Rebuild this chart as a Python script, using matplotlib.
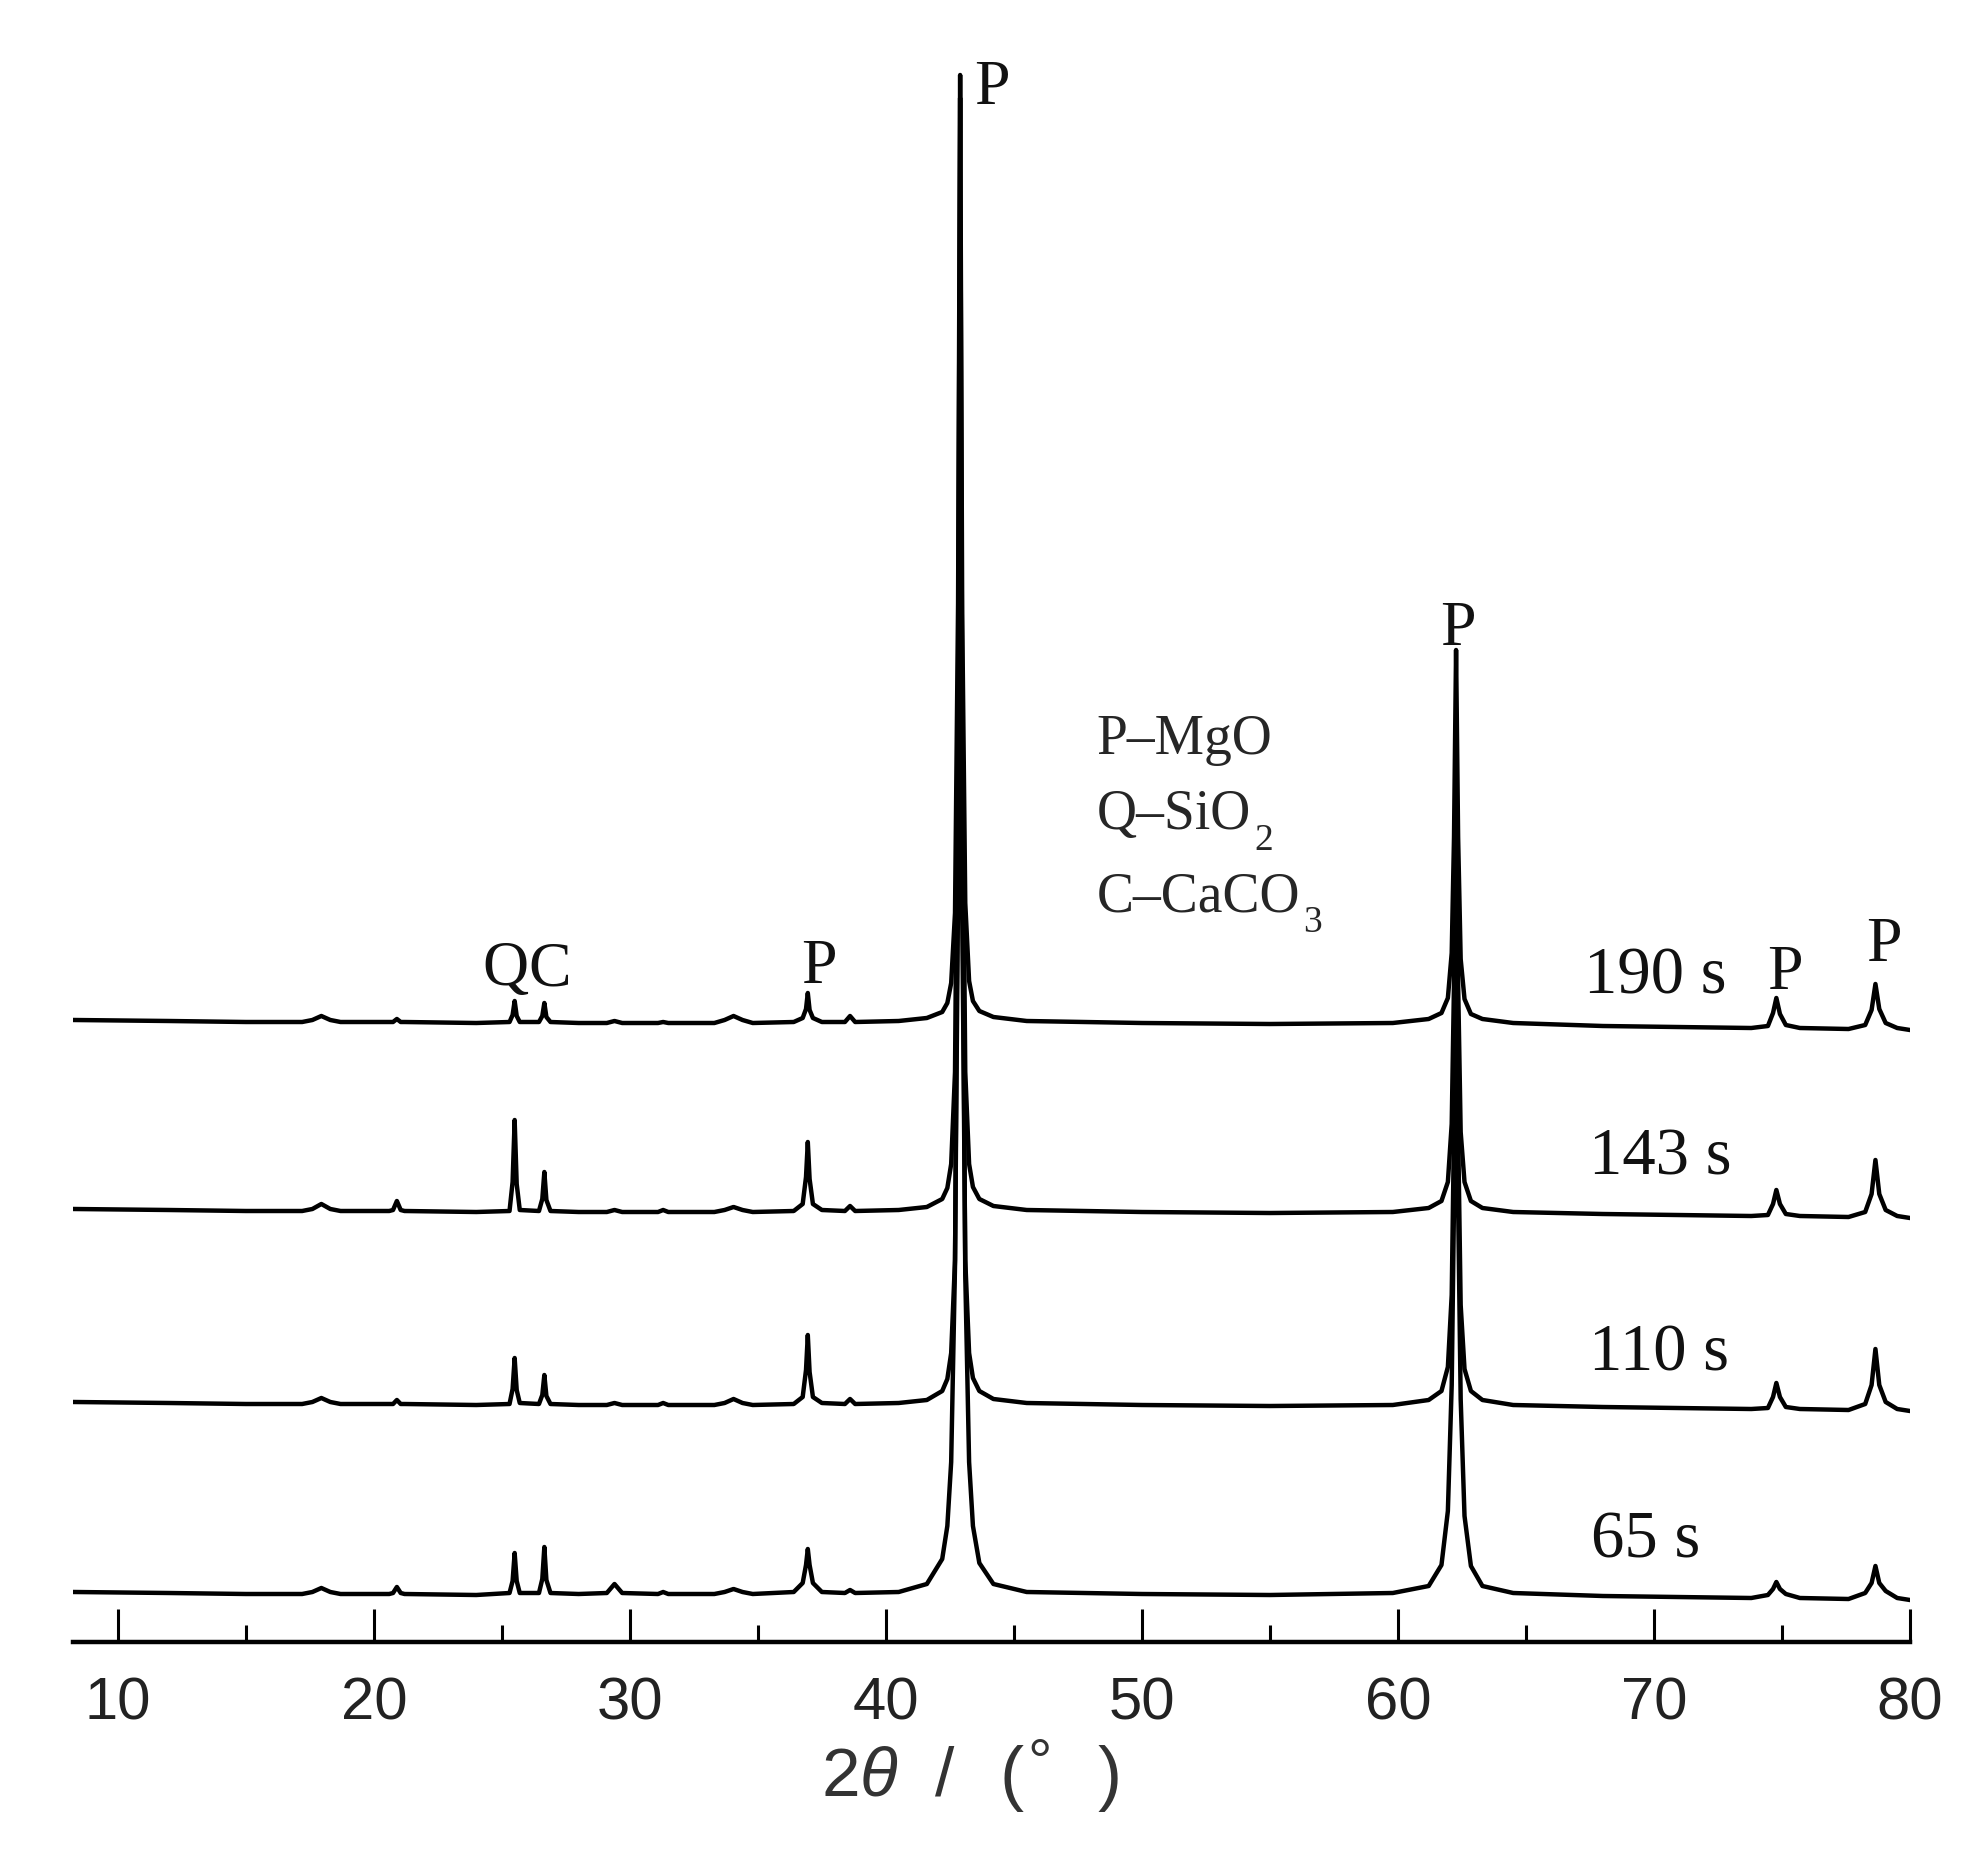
import matplotlib
matplotlib.use('Agg')
import matplotlib.pyplot as plt
from matplotlib.ticker import MultipleLocator

plt.rcParams['font.family'] = ['Liberation Sans Narrow', 'Liberation Sans', 'DejaVu Sans']
plt.rcParams['mathtext.fontset'] = 'custom'
plt.rcParams['mathtext.rm'] = 'Liberation Sans'
plt.rcParams['mathtext.it'] = 'Liberation Sans:italic'
SERIF = ['Liberation Serif', 'DejaVu Serif']

# 2theta positions of the trace vertices (shared by all four patterns)
two_theta = [8.3, 12.0, 15.0, 17.2, 17.6, 17.95, 18.3, 18.7, 20.6, 20.75, 20.9, 21.05, 21.2,
             24.0, 25.3, 25.42, 25.5, 25.58, 25.7, 26.45, 26.58, 26.66, 26.74, 26.9,
             28.0, 29.1, 29.4, 29.7, 31.1, 31.3, 31.5, 33.3, 33.7, 34.05, 34.4, 34.8,
             36.4, 36.75, 36.88, 36.95, 37.02, 37.15, 37.5, 38.4, 38.6, 38.8,
             40.5, 41.6, 42.2, 42.4, 42.55, 42.7, 42.82, 42.9, 42.98, 43.1, 43.25, 43.4, 43.65, 44.2, 45.5,
             50.0, 55.0, 59.8, 61.2, 61.7, 61.95, 62.1, 62.19, 62.27, 62.35, 62.45, 62.6, 62.85, 63.3, 64.5,
             68.0, 73.8, 74.45, 74.65, 74.78, 74.92, 75.15, 75.7, 77.6, 78.25, 78.5, 78.65, 78.8, 79.05, 79.5, 80.0]

# intensities (arbitrary units)
i65 = [3, 2, 1, 1, 3, 7, 3, 1, 1, 2, 8, 2, 1,
       0, 2, 14, 42, 14, 2, 2, 16, 48, 15, 2,
       1, 2, 11, 2, 1, 3, 1, 1, 3, 6, 3, 1,
       3, 12, 30, 46, 30, 12, 3, 2, 5, 2,
       3, 11, 36, 69, 133, 330, 800, 1097, 790, 320, 133, 69, 32, 11, 3,
       1, 0, 2, 9, 30, 84, 210, 392, 520, 392, 196, 79, 29, 9, 2,
       -1, -3, 0, 6, 13, 6, 1, -3, -4, 2, 12, 29, 12, 4, -3, -5]
i110 = [3, 2, 1, 1, 3, 7, 3, 1, 1, 1, 5, 1, 1,
        0, 1, 16, 47, 15, 2, 1, 10, 30, 9, 1,
        0, 0, 2, 0, 0, 2, 0, 0, 2, 6, 2, 0,
        1, 8, 35, 70, 33, 8, 2, 1, 6, 1,
        2, 5, 14, 26, 52, 145, 515, 1025, 500, 145, 52, 27, 14, 6, 2,
        0, -1, 0, 5, 14, 38, 110, 276, 494, 276, 100, 36, 14, 5, 0,
        -2, -4, -3, 8, 22, 8, -2, -4, -5, 1, 20, 56, 20, 3, -4, -6]
i143 = [3, 2, 1, 1, 3, 8, 3, 1, 1, 2, 11, 2, 1,
        0, 1, 30, 92, 28, 2, 1, 13, 40, 12, 1,
        0, 0, 2, 0, 0, 2, 0, 0, 2, 5, 2, 0,
        1, 8, 35, 70, 33, 8, 2, 1, 6, 1,
        2, 5, 13, 24, 48, 140, 520, 1114, 500, 140, 48, 25, 13, 6, 2,
        0, -1, 0, 4, 11, 30, 88, 229, 432, 229, 80, 30, 11, 4, 0,
        -2, -4, -3, 8, 22, 8, -2, -4, -5, 0, 18, 52, 18, 2, -4, -6]
i190 = [3, 2, 1, 1, 3, 7, 3, 1, 1, 1, 4, 1, 1,
        0, 1, 8, 22, 7, 1, 1, 7, 20, 6, 1,
        0, 0, 2, 0, 0, 1, 0, 0, 3, 7, 3, 0,
        1, 5, 14, 30, 13, 5, 1, 1, 7, 1,
        2, 5, 11, 20, 40, 110, 420, 948, 410, 120, 42, 22, 12, 6, 2,
        0, -1, 0, 4, 10, 25, 70, 186, 373, 186, 64, 24, 9, 4, 0,
        -3, -5, -3, 10, 25, 9, -2, -5, -6, -2, 13, 39, 14, 0, -5, -7]

series = [i65, i110, i143, i190]
labels = ['65 s', '110 s', '143 s', '190 s']
offsets = [47, 237, 430, 619]
label_pos = [(69.66, 101), (70.21, 288), (70.25, 484), (70.06, 665)]

# phase marks: (letter, x, y)
marks = [('P', 44.14, 1553), ('P', 62.35, 1012), ('P', 37.37, 674),
         ('P', 75.1, 668), ('P', 78.97, 696), ('Q', 25.14, 672), ('C', 26.85, 672)]

fig = plt.figure(figsize=(19.84, 18.57), dpi=100)
ax = fig.add_axes([73 / 1984, (1857 - 1642) / 1857, (1910 - 73) / 1984, (1642 - 41) / 1857])

for vals, off in zip(series, offsets):
    ax.plot(two_theta, [v + off for v in vals], color='black', lw=3.2, solid_joinstyle='round')

for lab, (x, y) in zip(labels, label_pos):
    ax.text(x, y, lab, fontsize=48, family=SERIF, ha='center', va='center', color='#111111')

for m, x, y in marks:
    ax.text(x, y, m, fontsize=46, family=SERIF, ha='center', va='center', color='#111111')

# phase key
t1 = ax.text(48.24, 888, 'P–MgO', fontsize=40, family=SERIF, va='baseline', color='#262626')
t2 = ax.text(48.24, 813, 'Q–SiO', fontsize=40, family=SERIF, va='baseline', color='#262626')
t3 = ax.text(48.24, 731, 'C–CaCO', fontsize=40, family=SERIF, va='baseline', color='#262626')
for t, sub in [(t2, '2'), (t3, '3')]:
    ax.annotate(sub, xy=(1, 0), xycoords=t, xytext=(2, 0), textcoords='offset points',
                fontsize=27, family=SERIF, va='center', ha='left', color='#262626')

ax.set_xlim(8.25, 80)
ax.set_ylim(0, 1601)
for s in ['left', 'right', 'top']:
    ax.spines[s].set_visible(False)
ax.spines['bottom'].set_linewidth(3.2)
ax.set_yticks([])
ax.xaxis.set_major_locator(MultipleLocator(10))
ax.xaxis.set_minor_locator(MultipleLocator(5))
ax.tick_params(axis='x', which='major', direction='in', length=24, width=2.2,
               labelsize=43, pad=25, labelcolor='#222222')
ax.tick_params(axis='x', which='minor', direction='in', length=12, width=2.2)

# axis title "2θ /(° )"
ty = 1 - 1778 / 1857
fig.text(860 / 1984, ty, r'2$\theta$', fontsize=50, ha='center', va='center', color='#333333')
fig.text(945 / 1984, ty, '/', fontsize=50, ha='center', va='center', color='#333333')
fig.text(1012 / 1984, ty, '(', fontsize=52, ha='center', va='center', color='#333333')
fig.text(1040 / 1984, 1 - 1766 / 1857, '°', fontsize=44, ha='center', va='center', color='#333333')
fig.text(1110 / 1984, ty, ')', fontsize=52, ha='center', va='center', color='#333333')

fig.savefig('out.png', dpi=100)
